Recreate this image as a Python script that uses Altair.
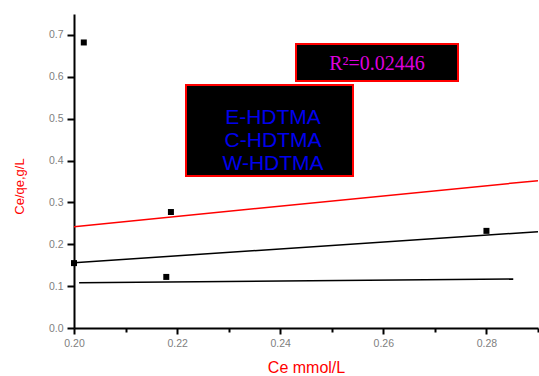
import altair as alt
import pandas as pd

# Scatter points (Ce mmol/L, Ce/qe g/L)
pt_x = [0.2019, 0.2188, 0.2179, 0.2800, 0.2000]
pt_y = [0.682, 0.277, 0.122, 0.232, 0.155]

# Fitted lines
red_x = [0.200, 0.290]
red_y = [0.242, 0.352]
blk1_x = [0.200, 0.290]
blk1_y = [0.156, 0.230]
blk2_x = [0.201, 0.2852]
blk2_y = [0.108, 0.117]

x_ticks = [0.20, 0.21, 0.22, 0.23, 0.24, 0.25, 0.26, 0.27, 0.28, 0.29]
y_ticks = [0.0, 0.05, 0.1, 0.15, 0.2, 0.25, 0.3, 0.35, 0.4, 0.45, 0.5, 0.55, 0.6, 0.65, 0.7, 0.75]

legend_lines = ["E-HDTMA", "C-HDTMA", "W-HDTMA"]
r2_text = "R\u00b2=0.02446"

W, H = 464, 314

pts = pd.DataFrame({"x": pt_x, "y": pt_y})
lines = pd.DataFrame({
    "x": red_x + blk1_x + blk2_x,
    "y": red_y + blk1_y + blk2_y,
    "s": ["red"] * 2 + ["b1"] * 2 + ["b2"] * 2,
})

xscale = alt.Scale(domain=[0.20, 0.29], nice=False, zero=False)
yscale = alt.Scale(domain=[0.0, 0.75], nice=False, zero=False)

xaxis = alt.Axis(
    values=x_ticks,
    labelExpr="round(datum.value*100) % 2 == 0 ? format(datum.value, '.2f') : ''",
    tickSize={"condition": {"test": "round(datum.value*100) % 2 == 0", "value": 6}, "value": 4},
    title="Ce mmol/L",
    titleColor="red",
    titleFontSize=16,
    titleFontWeight="normal",
    titleFont="Liberation Sans",
    titlePadding=11,
    labelPadding=4,
    labelOverlap=False,
    labelFlush=False,
    grid=False,
)
yaxis = alt.Axis(
    values=y_ticks,
    labelExpr="round(datum.value*20) % 2 == 0 ? format(datum.value, '.1f') : ''",
    tickSize={"condition": {"test": "round(datum.value*20) % 2 == 0", "value": 7}, "value": 5},
    title="Ce/qe,g/L",
    titleColor="red",
    titleFontSize=13,
    titleFontWeight="normal",
    titleFont="Liberation Sans",
    titlePadding=22,
    titleY=172,
    labelPadding=4,
    labelOverlap=False,
    labelFlush=False,
    grid=False,
)

base_lines = alt.Chart(lines).mark_line(strokeWidth=1.5, clip=True).encode(
    x=alt.X("x:Q", scale=xscale, axis=xaxis),
    y=alt.Y("y:Q", scale=yscale, axis=yaxis),
    color=alt.Color("s:N", scale=alt.Scale(domain=["red", "b1", "b2"], range=["#ff0000", "#000000", "#000000"]), legend=None),
    detail="s:N",
)

points = alt.Chart(pts).mark_square(size=36, color="black", opacity=1, clip=False).encode(
    x=alt.X("x:Q", scale=xscale),
    y=alt.Y("y:Q", scale=yscale),
)

one = alt.Data(values=[{}])

r2_box = alt.Chart(one).mark_rect(fill="black", stroke="#ff0000", strokeWidth=2).encode(
    x=alt.value(222), x2=alt.value(384), y=alt.value(30), y2=alt.value(67)
)
r2_lbl = alt.Chart(one).mark_text(
    text=r2_text, color="#dd00dd", font="Liberation Serif", fontSize=20, align="center", baseline="middle"
).encode(x=alt.value(303), y=alt.value(50))

leg_box = alt.Chart(one).mark_rect(fill="black", stroke="#ff0000", strokeWidth=2).encode(
    x=alt.value(112), x2=alt.value(279), y=alt.value(71), y2=alt.value(162)
)
leg_df = pd.DataFrame({"t": legend_lines, "i": [0, 1, 2]})
leg_txt = alt.Chart(leg_df).transform_calculate(
    py="104 + datum.i * 23"
).mark_text(
    color="#0000ee", font="Liberation Sans", fontSize=21, align="center", baseline="middle"
).encode(
    text="t:N",
    x=alt.value(199),
    y=alt.Y("py:Q", scale=None),
)

chart = alt.layer(base_lines, points, r2_box, r2_lbl, leg_box, leg_txt).properties(
    width=W, height=H,
    autosize=alt.AutoSizeParams(type="none"),
    padding={"left": 74, "top": 14, "right": 1, "bottom": 48},
    background="white",
).configure_view(stroke=None).configure_axis(
    domainColor="black", domainWidth=2, tickColor="black", tickWidth=2,
    labelColor="#808080", labelFont="Liberation Sans", labelFontSize=10.5,
)

chart.save("out.html", embed_options={"renderer": "svg", "actions": False})
